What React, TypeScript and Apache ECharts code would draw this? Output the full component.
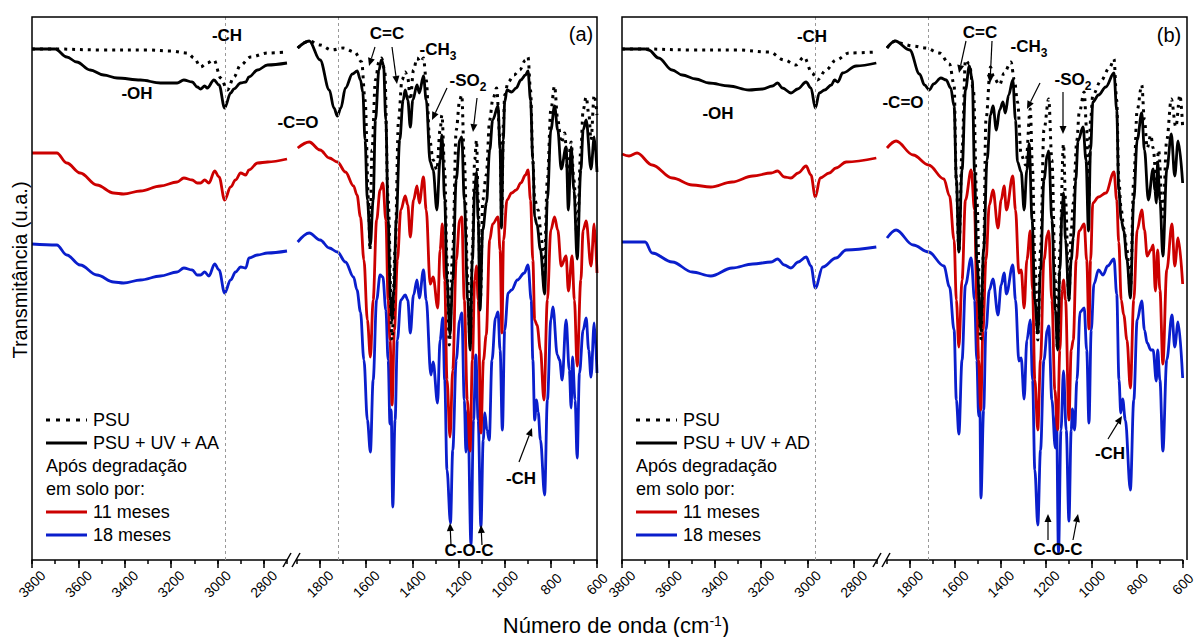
import React, { useEffect, useRef } from "react";
import * as echarts from "echarts";

// ---------- DATA: [wavenumber (cm-1), transmittance (a.u.)] ----------
// Panel (a) — 3800-2700 cm-1
const psuA_L = [[3800,511],[3700,511],[3500,510],[3300,510],[3200,509],[3130,507],[3100,502],[3073,493],[3045,497],[3015,500],[2986,482],[2957,470],[2929,483],[2900,495],[2857,503],[2784,507],[2700,508]];
const uvA_L = [[3800,511],[3700,511],[3650,503],[3607,498],[3549,490],[3491,485],[3433,482],[3332,480],[3246,477],[3174,477],[3145,480],[3109,478],[3087,473],[3073,471],[3055,474],[3044,472],[3015,480],[2993,475],[2969,452],[2943,467],[2929,471],[2900,477],[2878,478],[2864,483],[2827,490],[2784,495],[2700,497]];
const m11A_L = [[3800,407],[3693,407],[3650,397],[3592,387],[3520,375],[3448,367],[3405,366],[3332,369],[3246,374],[3174,378],[3145,382],[3109,380],[3087,377],[3073,377],[3055,380],[3037,377],[3012,389],[2993,383],[2969,360],[2943,373],[2922,380],[2900,387],[2878,385],[2864,390],[2827,397],[2784,398],[2700,401]];
const m18A_L = [[3800,316],[3693,315],[3650,305],[3592,295],[3520,285],[3448,278],[3405,277],[3332,280],[3246,284],[3174,288],[3145,292],[3109,290],[3087,285],[3073,285],[3055,288],[3037,284],[3012,296],[2993,290],[2969,267],[2943,280],[2922,288],[2900,293],[2878,292],[2864,302],[2827,305],[2784,307],[2700,309]];

// Panel (a) — 1900-600 cm-1
const psuA_R = [[1897,512],[1847,519],[1800,515],[1750,510],[1700,512],[1650,508],[1620,498],[1605,460],[1590,360],[1584,310],[1575,410],[1560,480],[1545,498],[1534,502],[1520,490],[1505,360],[1488,220],[1475,310],[1460,440],[1445,480],[1431,488],[1420,482],[1409,460],[1395,490],[1380,502],[1365,498],[1352,502],[1340,480],[1325,420],[1310,400],[1294,390],[1280,430],[1272,445],[1260,390],[1250,300],[1240,215],[1225,310],[1210,430],[1195,460],[1186,465],[1175,400],[1160,280],[1150,215],[1140,310],[1130,400],[1122,420],[1115,360],[1105,260],[1095,360],[1080,385],[1065,440],[1052,460],[1035,472],[1020,420],[1013,345],[1005,440],[1000,465],[985,478],[960,485],[935,490],[910,500],[899,503],[888,470],[878,400],[870,360],[855,350],[840,320],[830,275],[815,380],[800,450],[784,474],[770,440],[755,417],[740,427],[728,390],[712,418],[700,380],[686,320],[670,410],[660,450],[647,463],[635,445],[626,420],[612,465],[600,445]];
const uvA_R = [[1897,512],[1847,519],[1800,500],[1760,470],[1740,452],[1725,444],[1710,452],[1690,472],[1660,486],[1639,489],[1625,480],[1615,468],[1605,420],[1595,360],[1582,315],[1570,360],[1560,440],[1545,490],[1534,500],[1525,495],[1515,440],[1505,340],[1495,260],[1488,240],[1480,270],[1470,340],[1455,420],[1440,460],[1431,470],[1420,460],[1409,433],[1398,460],[1380,475],[1370,467],[1352,484],[1340,460],[1323,398],[1310,390],[1294,350],[1280,400],[1272,425],[1260,360],[1250,280],[1237,225],[1225,280],[1210,380],[1195,420],[1186,423],[1175,360],[1160,260],[1150,210],[1140,300],[1130,370],[1122,388],[1115,340],[1107,250],[1095,330],[1079,357],[1065,410],[1052,440],[1029,454],[1020,410],[1014,332],[1006,420],[1000,458],[990,470],[970,468],[950,472],[930,480],[910,485],[899,489],[888,460],[878,400],[870,343],[860,335],[845,310],[827,266],[815,360],[800,430],[784,454],[770,430],[755,391],[734,413],[724,350],[712,413],[700,370],[686,301],[670,390],[660,430],[647,440],[626,391],[612,423],[600,388]];
const m11A_R = [[1897,412],[1847,418],[1800,410],[1760,402],[1725,398],[1690,388],[1655,374],[1640,365],[1625,343],[1610,300],[1595,240],[1582,203],[1570,260],[1555,340],[1540,370],[1528,377],[1515,340],[1505,260],[1497,220],[1488,155],[1478,230],[1465,300],[1450,350],[1431,364],[1420,355],[1409,323],[1395,360],[1380,374],[1370,357],[1352,383],[1340,350],[1323,276],[1310,283],[1290,252],[1280,310],[1270,336],[1260,280],[1250,180],[1237,123],[1225,190],[1210,300],[1195,340],[1186,343],[1175,260],[1162,160],[1150,109],[1140,200],[1130,280],[1122,294],[1115,260],[1103,127],[1092,200],[1080,225],[1065,320],[1052,336],[1029,343],[1020,310],[1012,227],[1005,320],[990,360],[970,367],[950,370],[930,377],[910,385],[899,390],[888,360],[878,300],[870,240],[860,235],[845,210],[830,160],[815,260],[800,330],[784,343],[770,330],[755,294],[734,304],[724,269],[708,304],[698,260],[686,194],[670,280],[660,330],[647,339],[626,294],[612,336],[600,287]];
const m18A_R = [[1897,318],[1847,327],[1800,320],[1760,312],[1725,308],[1690,298],[1655,283],[1640,270],[1625,248],[1610,200],[1595,140],[1582,108],[1570,180],[1555,260],[1540,285],[1528,283],[1515,250],[1505,200],[1497,136],[1492,150],[1485,53],[1475,140],[1465,220],[1450,260],[1431,265],[1420,260],[1409,227],[1395,265],[1380,280],[1370,262],[1352,290],[1340,260],[1320,185],[1310,198],[1291,157],[1280,220],[1268,242],[1260,180],[1250,90],[1235,37],[1225,110],[1210,200],[1195,240],[1186,247],[1175,160],[1168,108],[1160,150],[1146,15],[1135,140],[1125,205],[1115,140],[1103,33],[1093,120],[1086,147],[1077,130],[1067,120],[1055,200],[1040,242],[1029,248],[1020,210],[1010,130],[1000,230],[985,267],[970,270],[945,280],[915,287],[899,295],[885,260],[878,200],[870,140],[862,160],[855,148],[845,120],[827,65],[815,160],[800,240],[791,253],[772,205],[762,200],[751,180],[734,240],[720,190],[712,152],[706,203],[695,160],[686,102],[676,187],[660,230],[647,242],[636,210],[626,183],[612,237],[600,187]];

// Panel (b) — 3800-2700 cm-1
const psuB_L = [[3800,511],[3700,511],[3500,510],[3300,510],[3165,508],[3100,500],[3050,495],[3015,503],[2980,487],[2957,480],[2920,490],[2877,500],[2820,507],[2703,508]];
const uvB_L = [[3800,511],[3700,511],[3685,510],[3642,502],[3584,490],[3540,485],[3482,481],[3425,477],[3338,474],[3252,470],[3194,471],[3151,474],[3129,477],[3108,472],[3071,467],[3042,471],[3006,478],[2985,472],[2966,452],[2949,467],[2926,470],[2897,475],[2883,480],[2869,478],[2848,487],[2790,494],[2703,497]];
const m11B_L = [[3800,406],[3770,404],[3735,407],[3670,395],[3583,382],[3497,375],[3417,373],[3325,378],[3236,384],[3156,387],[3129,389],[3100,383],[3071,382],[3040,387],[3006,394],[2985,385],[2966,363],[2945,382],[2906,387],[2877,392],[2833,398],[2703,402]];
const m18B_L = [[3800,318],[3700,318],[3670,307],[3583,298],[3497,288],[3417,284],[3325,292],[3236,296],[3156,298],[3129,301],[3100,295],[3071,292],[3040,298],[3006,303],[2985,294],[2966,272],[2934,293],[2877,302],[2833,310],[2703,313]];

// Panel (b) — 1900-600 cm-1
const psuB_R = [[1900,512],[1864,519],[1850,517],[1785,514],[1730,512],[1670,507],[1625,496],[1605,475],[1595,380],[1584,308],[1570,410],[1555,500],[1538,496],[1520,470],[1505,360],[1488,220],[1475,310],[1465,440],[1445,493],[1430,482],[1405,475],[1385,487],[1355,498],[1340,480],[1326,458],[1310,405],[1290,395],[1270,451],[1260,390],[1250,300],[1237,220],[1225,310],[1210,430],[1189,461],[1175,400],[1160,280],[1150,210],[1140,310],[1124,416],[1115,360],[1100,260],[1090,330],[1081,357],[1065,420],[1055,447],[1033,468],[1022,430],[1014,353],[1005,440],[995,465],[960,479],[920,493],[902,501],[890,460],[881,380],[870,350],[859,332],[845,310],[830,269],[815,380],[800,450],[780,475],[768,440],[756,412],[740,425],[730,412],[716,381],[706,410],[687,343],[670,420],[650,461],[630,433],[612,465],[600,433]];
const uvB_R = [[1900,512],[1864,519],[1800,510],[1757,486],[1735,475],[1714,470],[1695,476],[1663,482],[1640,480],[1620,472],[1605,454],[1595,380],[1584,308],[1570,390],[1555,470],[1538,494],[1525,480],[1515,388],[1505,300],[1488,230],[1475,310],[1460,400],[1445,445],[1434,454],[1419,430],[1405,450],[1390,458],[1380,447],[1365,465],[1347,480],[1335,440],[1326,398],[1310,388],[1297,350],[1285,390],[1275,416],[1262,340],[1250,260],[1237,227],[1225,290],[1210,380],[1195,405],[1189,409],[1175,340],[1160,250],[1150,210],[1140,290],[1130,350],[1124,367],[1115,320],[1100,260],[1090,300],[1081,322],[1070,380],[1060,419],[1038,433],[1025,400],[1014,329],[1005,410],[995,458],[970,465],[938,473],[902,487],[890,450],[881,370],[870,340],[859,329],[845,300],[830,262],[815,360],[800,420],[780,447],[768,410],[751,360],[730,391],[722,370],[716,357],[710,398],[700,360],[687,304],[670,390],[650,426],[635,384],[620,419],[600,377]];
const m11B_R = [[1900,412],[1860,419],[1785,405],[1717,395],[1650,381],[1625,364],[1605,320],[1595,260],[1584,213],[1570,280],[1555,360],[1530,390],[1515,350],[1505,260],[1497,200],[1488,150],[1478,230],[1465,300],[1450,355],[1434,370],[1412,332],[1398,360],[1385,374],[1375,350],[1347,384],[1335,350],[1320,287],[1310,290],[1297,252],[1285,300],[1270,329],[1260,270],[1250,180],[1237,130],[1225,200],[1210,300],[1195,325],[1189,329],[1175,260],[1162,170],[1150,130],[1140,210],[1130,270],[1124,280],[1115,260],[1100,140],[1090,210],[1081,220],[1068,300],[1055,329],[1033,336],[1022,300],[1012,231],[1005,300],[995,357],[970,363],[938,367],[902,388],[890,360],[881,318],[870,260],[859,245],[845,220],[830,172],[815,260],[800,330],[780,350],[768,330],[756,304],[740,310],[730,315],[720,269],[710,310],[700,270],[687,196],[670,290],[647,336],[635,294],[620,322],[600,276]];
const m18B_R = [[1900,322],[1860,330],[1785,315],[1717,308],[1650,294],[1625,273],[1605,230],[1595,160],[1584,126],[1570,200],[1555,275],[1530,302],[1515,260],[1505,200],[1497,144],[1492,160],[1487,62],[1475,150],[1465,230],[1450,270],[1434,281],[1412,245],[1398,275],[1385,287],[1375,266],[1347,295],[1335,260],[1320,199],[1310,202],[1297,161],[1285,220],[1270,240],[1260,180],[1250,90],[1237,35],[1225,110],[1210,200],[1195,230],[1189,234],[1175,160],[1160,112],[1155,147],[1146,7],[1135,130],[1124,189],[1112,130],[1100,39],[1090,130],[1085,151],[1075,130],[1065,180],[1051,248],[1033,252],[1022,210],[1012,137],[1002,230],[990,276],[970,290],[950,285],[930,294],[902,301],[890,266],[880,180],[872,147],[864,161],[852,140],[830,70],[815,160],[800,240],[780,259],[768,230],[756,217],[740,210],[730,210],[716,179],[710,210],[700,180],[687,109],[670,200],[647,245],[635,213],[620,238],[600,182]];

// Axis tick labels
const ticksHigh = [3800, 3600, 3400, 3200, 3000, 2800];
const ticksLow = [1800, 1600, 1400, 1200, 1000, 800, 600];

const seriesNames = ["PSU", "PSU + UV", "11 meses", "18 meses"];
const colors = { psu: "#000000", uv: "#000000", m11: "#cc0000", m18: "#0a1ecc" };
const FONT = 'Arial, "Liberation Sans", sans-serif';

function arrow(x1: number, y1: number, x2: number, y2: number) {
  const dx = x2 - x1, dy = y2 - y1;
  const L = Math.hypot(dx, dy);
  const ux = dx / L, uy = dy / L;
  const hl = 8, hw = 3.5;
  const bx = x2 - ux * hl, by = y2 - uy * hl;
  return [
    { type: "line", z: 100, shape: { x1, y1, x2: bx, y2: by }, style: { stroke: "#000", lineWidth: 1.2 } },
    { type: "polygon", z: 100, shape: { points: [[x2, y2], [bx - uy * hw, by + ux * hw], [bx + uy * hw, by - ux * hw]] }, style: { fill: "#000" } },
  ];
}

function label(text: string, x: number, y: number, size = 17, weight = "bold") {
  return { type: "text", z: 100, x, y, style: { text, fontSize: size, fontWeight: weight, fontFamily: FONT, fill: "#000", align: "center", verticalAlign: "middle" } };
}

function subLabel(main: string, sub: string, x: number, y: number) {
  return {
    type: "text", z: 100, x, y,
    style: {
      text: `{n|${main}}{s|${sub}}`,
      align: "center", verticalAlign: "middle", fill: "#000",
      rich: {
        n: { fontSize: 17, fontWeight: "bold", fontFamily: FONT, fill: "#000", verticalAlign: "top" },
        s: { fontSize: 12, fontWeight: "bold", fontFamily: FONT, fill: "#000", padding: [9, 0, 0, 0] },
      },
    },
  };
}

function legend(x0: number, lastLabel: string) {
  const items: any[] = [];
  const lx1 = x0, lx2 = x0 + 41, tx = x0 + 47;
  const txt = (t: string, x: number, y: number) => ({ type: "text", z: 100, x, y, style: { text: t, fontSize: 18, fontFamily: FONT, fill: "#000", align: "left", verticalAlign: "middle" } });
  items.push({ type: "line", z: 100, shape: { x1: lx1, y1: 420, x2: lx2, y2: 420 }, style: { stroke: "#000", lineWidth: 3, lineDash: [4, 6] } });
  items.push(txt("PSU", tx, 420));
  items.push({ type: "line", z: 100, shape: { x1: lx1, y1: 443, x2: lx2, y2: 443 }, style: { stroke: "#000", lineWidth: 3 } });
  items.push(txt(lastLabel, tx, 443));
  items.push(txt("Após degradação", lx1, 466));
  items.push(txt("em solo por:", lx1, 489));
  items.push({ type: "line", z: 100, shape: { x1: lx1, y1: 512, x2: lx2, y2: 512 }, style: { stroke: colors.m11, lineWidth: 3 } });
  items.push(txt("11 meses", tx, 512));
  items.push({ type: "line", z: 100, shape: { x1: lx1, y1: 535, x2: lx2, y2: 535 }, style: { stroke: colors.m18, lineWidth: 3 } });
  items.push(txt("18 meses", tx, 535));
  return items;
}

export default function App() {
  const ref = useRef<HTMLDivElement>(null);
  useEffect(() => {
    if (!ref.current) return;
    const chart = echarts.init(ref.current, undefined, { renderer: "svg" });

    const panels = [
      { left: 32, gapL: 287, gapR: 297, right: 597 },
      { left: 622, gapL: 877, gapR: 887, right: 1187 },
    ];
    const TOP = 17, H = 543;
    const segments = [
      { min: 2700, max: 3800, ticks: ticksHigh, dash: 2965 },
      { min: 600, max: 1900, ticks: ticksLow, dash: 1720 },
    ];
    const dataSets = [
      [[psuA_L, uvA_L, m11A_L, m18A_L], [psuA_R, uvA_R, m11A_R, m18A_R]],
      [[psuB_L, uvB_L, m11B_L, m18B_L], [psuB_R, uvB_R, m11B_R, m18B_R]],
    ];

    const grid: any[] = [], xAxis: any[] = [], yAxis: any[] = [], series: any[] = [];
    let gi = 0;
    panels.forEach((p, pi) => {
      segments.forEach((s, si) => {
        const left = si === 0 ? p.left : p.gapR;
        const width = si === 0 ? p.gapL - p.left : p.right - p.gapR;
        grid.push({ left, top: TOP, width, height: H, containLabel: false });
        // minor ticks + axis line
        xAxis.push({
          type: "value", gridIndex: gi, min: s.min, max: s.max, interval: 100, inverse: true, position: "bottom",
          axisLine: { show: true, onZero: false, lineStyle: { color: "#000", width: 1.5 } },
          axisTick: { show: true, inside: false, length: 4, lineStyle: { color: "#000", width: 1.5 } },
          axisLabel: { show: false }, splitLine: { show: false },
        });
        // major ticks + labels
        xAxis.push({
          type: "value", gridIndex: gi, min: s.min, max: s.max, interval: 100, inverse: true, position: "bottom",
          axisLine: { show: false, onZero: false },
          axisTick: { show: true, inside: false, length: 8, customValues: s.ticks, lineStyle: { color: "#000", width: 1.5 } },
          axisLabel: {
            show: true, customValues: s.ticks, rotate: 45, fontSize: 14, fontFamily: FONT, color: "#000",
            margin: 24, align: "center", verticalAlign: "middle", formatter: (v: number) => String(v),
          },
          splitLine: { show: false },
        });
        yAxis.push({ type: "value", gridIndex: gi, min: 0, max: 543, show: false });
        const sets = dataSets[pi][si];
        const order = [3, 2, 1, 0];
        order.forEach((k) => {
          const isPsu = k === 0;
          const col = [colors.psu, colors.uv, colors.m11, colors.m18][k];
          const ser: any = {
            type: "line", name: seriesNames[k], xAxisIndex: gi * 2, yAxisIndex: gi,
            data: sets[k], showSymbol: false, symbol: "none", smooth: 0.35, smoothMonotone: "x",
            lineStyle: { color: col, width: isPsu ? 3 : 2.8, type: isPsu ? [3, 5] : "solid" },
            z: 2 + (3 - k), silent: true,
          };
          if (isPsu) {
            ser.markLine = {
              silent: true, symbol: ["none", "none"], label: { show: false },
              lineStyle: { color: "#999", type: [3, 3], width: 1 },
              data: [{ xAxis: s.dash }],
            };
          }
          series.push(ser);
        });
        gi++;
      });
    });

    const graphic: any[] = [];
    panels.forEach((p) => {
      graphic.push({ type: "polyline", z: 50, shape: { points: [[p.left, TOP + H], [p.left, TOP], [p.right, TOP], [p.right, TOP + H]] }, style: { stroke: "#000", lineWidth: 1.5, fill: "none" } });
      const c1 = p.gapL, c2 = p.gapR - 1;
      graphic.push({ type: "line", z: 50, shape: { x1: c1 - 4, y1: TOP + H + 7, x2: c1 + 4, y2: TOP + H - 7 }, style: { stroke: "#000", lineWidth: 1.5 } });
      graphic.push({ type: "line", z: 50, shape: { x1: c2 - 4, y1: TOP + H + 7, x2: c2 + 4, y2: TOP + H - 7 }, style: { stroke: "#000", lineWidth: 1.5 } });
    });

    graphic.push(...legend(46, "PSU + UV + AA"));
    graphic.push(...legend(636, "PSU + UV + AD"));

    // Panel (a) annotations
    graphic.push(label("-CH", 227, 35), label("-OH", 137, 93), label("-C=O", 298, 122), label("C=C", 387, 33));
    graphic.push(subLabel("-CH", "3", 438, 51), subLabel("-SO", "2", 468, 82));
    graphic.push(label("(a)", 581, 34, 20, "normal"), label("C-O-C", 469, 550), label("-CH", 521, 478));
    graphic.push(...arrow(375, 47, 369, 66), ...arrow(392, 47, 397, 84), ...arrow(447, 88, 432, 120), ...arrow(477, 98, 473, 132));
    graphic.push(...arrow(451, 545, 450, 523), ...arrow(482, 545, 481, 525), ...arrow(519, 462, 532, 428));

    // Panel (b) annotations
    graphic.push(label("-CH", 812, 36), label("-OH", 718, 113), label("-C=O", 903, 102), label("C=C", 980, 32));
    graphic.push(subLabel("-CH", "3", 1029, 48), subLabel("-SO", "2", 1073, 81));
    graphic.push(label("(b)", 1169, 35, 20, "normal"), label("C-O-C", 1058, 549), label("-CH", 1110, 453));
    graphic.push(...arrow(966, 41, 959, 73), ...arrow(992, 41, 990, 83), ...arrow(1040, 83, 1027, 109), ...arrow(1063, 92, 1063, 134));
    graphic.push(...arrow(1048, 540, 1048, 514), ...arrow(1073, 540, 1078, 514), ...arrow(1108, 439, 1122, 416));

    // Axis titles
    graphic.push({
      type: "text", z: 100, x: 616, y: 625,
      style: {
        text: "{n|Número de onda (cm}{s|-1}{n|)}", align: "center", verticalAlign: "middle", fill: "#000",
        rich: {
          n: { fontSize: 22, fontFamily: FONT, fill: "#000", verticalAlign: "bottom" },
          s: { fontSize: 14, fontFamily: FONT, fill: "#000", verticalAlign: "bottom", padding: [0, 0, 9, 0] },
        },
      },
    });
    graphic.push({
      type: "text", z: 100, x: 20, y: 270, rotation: Math.PI / 2,
      style: { text: "Transmitância (u.a.)", fontSize: 20, fontFamily: FONT, fill: "#000", align: "center", verticalAlign: "middle" },
    });

    chart.setOption({
      animation: false,
      backgroundColor: "#ffffff",
      grid, xAxis, yAxis, series, graphic,
    });
    return () => chart.dispose();
  }, []);
  return <div ref={ref} style={{ position: "fixed", left: 0, top: 0, width: 1198, height: 637, background: "#fff" }} />;
}
